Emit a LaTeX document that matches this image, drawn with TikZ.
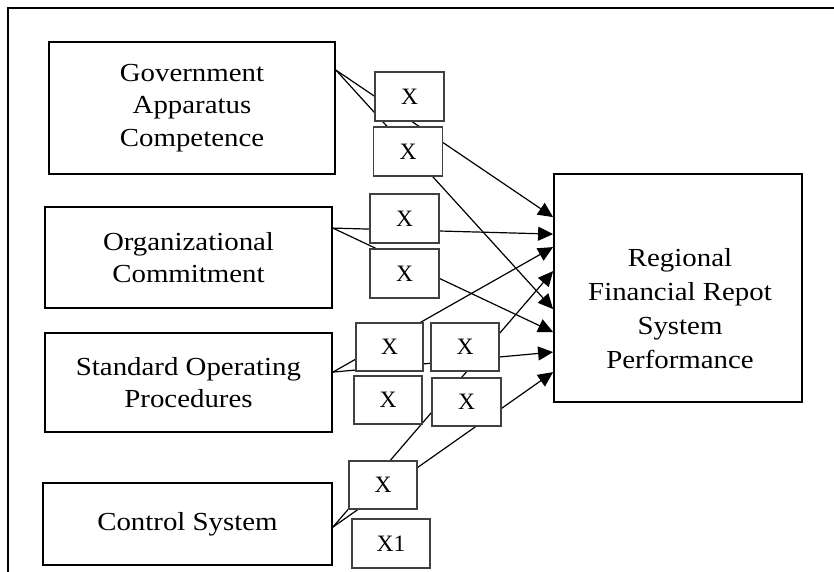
\documentclass[tikz,border=0pt]{standalone}
\usepackage{fontspec}
\setmainfont{Liberation Serif}
\newfontfamily\boxfont{Liberation Serif}[FakeStretch=1.11]
\usetikzlibrary{arrows.meta}
\begin{document}
\begin{tikzpicture}[x=1pt,y=-1pt,
  bigbox/.style={draw=black, line width=1.8pt, align=center, inner sep=0pt,
    font=\boxfont\fontsize{26}{32.5}\selectfont},
  bigtext/.style={align=center, inner sep=0pt, font=\boxfont\fontsize{26}{34}\selectfont},
  xbox/.style={draw=black!75, line width=1.1pt, fill=white, inner sep=0pt,
    minimum width=69pt, minimum height=49pt, font=\fontsize{23.5}{28}\selectfont},
  link/.style={line width=1.2pt, -{Triangle[length=15pt,width=14pt]}},
  frame/.style={line width=1.6pt}
]
\useasboundingbox (0,0) rectangle (834,572);
\coordinate (fa) at (834,8);
\coordinate (fb) at (8,8);
\coordinate (fc) at (8,572);
\draw[frame] (fa) -- (fb) -- (fc);

% left boxes
\node[bigbox, minimum width=286pt, minimum height=132pt] (gov) at (192,108)
  {Government\\Apparatus\\Competence};
\node[bigbox, minimum width=287pt, minimum height=101pt] (org) at (188.5,257.5)
  {Organizational\\Commitment};
\node[bigbox, minimum width=287pt, minimum height=99pt] (sop) at (188.5,382.5)
  {Standard Operating\\Procedures};
\node[bigbox, minimum width=289pt, minimum height=82pt] (ctl) at (187.5,524)
  {Control System};

% right box
\node[draw=black, line width=1.8pt, minimum width=248pt, minimum height=228pt] (reg) at (678,288) {};
\node[bigtext] (regtext) at (680,309) {Regional\\Financial Repot\\System\\Performance};

% start points
\path (gov.north east) ++(0,29) coordinate (g0);
\path (org.north east) ++(0,22) coordinate (o0);
\path (sop.north east) ++(0,40) coordinate (s0);
\path (ctl.north east) ++(0,45) coordinate (c0);

% arrow targets
\path (reg.north west) ++(0,44)  coordinate (t1);
\path (reg.north west) ++(0,61)  coordinate (t2);
\path (reg.north west) ++(0,74)  coordinate (t3);
\path (reg.north west) ++(0,98)  coordinate (t4);
\path (reg.north west) ++(0,136) coordinate (t5);
\path (reg.north west) ++(0,159) coordinate (t6);
\path (reg.north west) ++(0,179) coordinate (t7);
\path (reg.north west) ++(0,199) coordinate (t8);

% connectors
\draw[link] (g0) -- (t1);
\draw[link] (g0) -- (t5);
\draw[link] (o0) -- (t2);
\draw[link] (o0) -- (t6);
\draw[link] (s0) -- (t3);
\draw[link] (s0) -- (t7);
\draw[link] (c0) -- (t4);
\draw[link] (c0) -- (t8);

% X boxes on top
\node[xbox] (x1a) at (409.5,96.5) {X};
\node[xbox] (x1b) at (408,151.5) {X};
\node[xbox] (x2a) at (404.5,218.5) {X};
\node[xbox] (x2b) at (404.5,273.5) {X};
\node[xbox, minimum width=67pt, minimum height=48pt] (x3a) at (389.5,347) {X};
\node[xbox, minimum width=68pt, minimum height=48pt] (x3b) at (465,347) {X};
\node[xbox, minimum width=68pt, minimum height=48pt] (x4a) at (388,400) {X};
\node[xbox, minimum width=69pt, minimum height=48pt] (x4b) at (466.5,402) {X};
\node[xbox, minimum width=68pt, minimum height=48pt] (x5) at (383,485) {X};
\node[xbox, minimum width=78pt, minimum height=49pt] (x1l) at (391,543.5) {X1};
\end{tikzpicture}
\end{document}
